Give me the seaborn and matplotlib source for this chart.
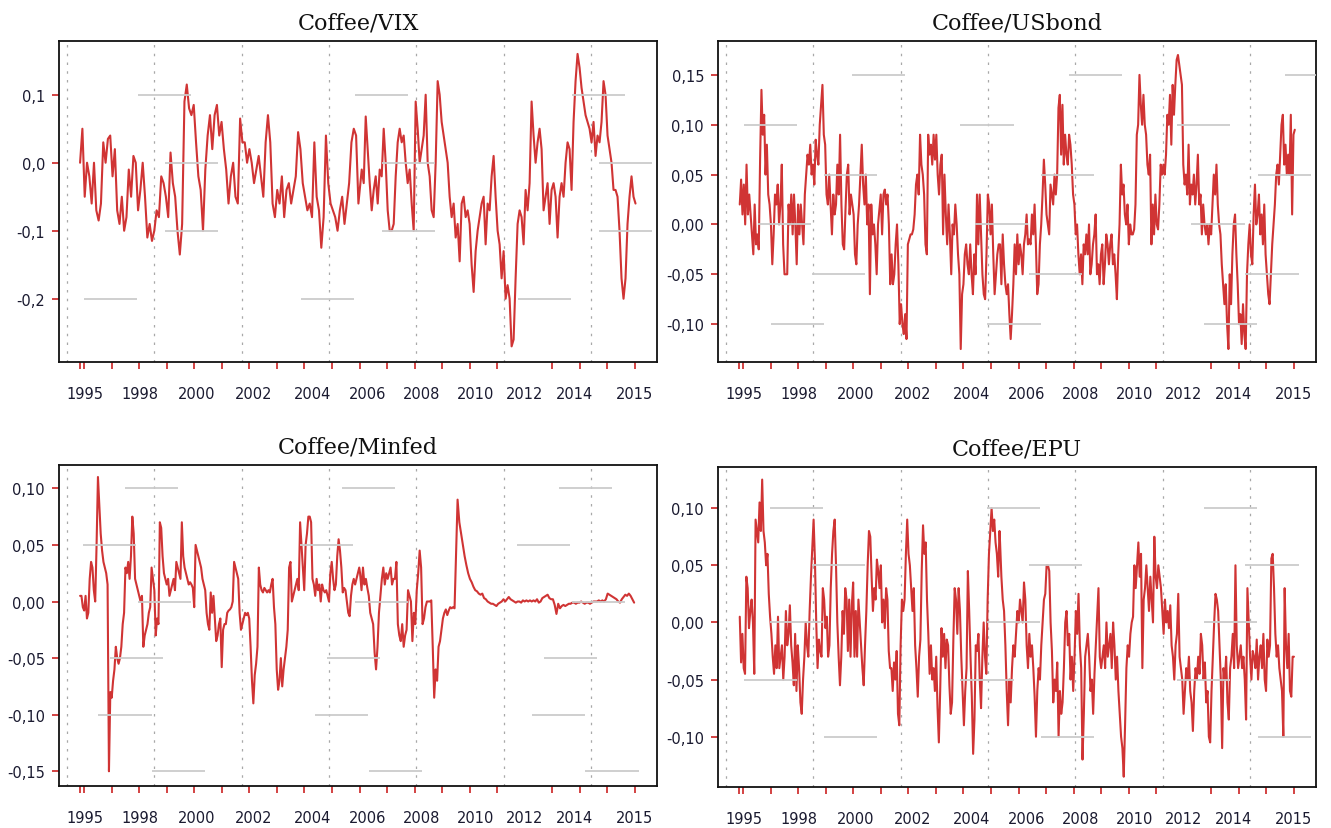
import numpy as np
import pandas as pd
import matplotlib
matplotlib.use("Agg")
import matplotlib.pyplot as plt
import seaborn as sns

sns.set_theme(style="white")
plt.rcParams["font.family"] = ["DejaVu Sans"]

# dynamic correlations (two or three stretches per series)
vix_1995_2004 = [0.0, 0.05, -0.05, 0.0, -0.02, -0.06, 0.0, -0.07, -0.085, -0.06, 0.03, 0.0, 0.035, 0.04, -0.02, 0.02,
                 -0.07, -0.09, -0.05, -0.1, -0.08, -0.01, -0.05, 0.01, 0.0, -0.07, -0.04, 0.0, -0.05, -0.11, -0.09,
                 -0.115, -0.1, -0.07, -0.08, -0.02, -0.03, -0.05, -0.08, 0.015, -0.03, -0.05, -0.1, -0.135, -0.09,
                 0.09, 0.115, 0.08, 0.07, 0.085, 0.03, -0.02, -0.04, -0.1, -0.01, 0.04, 0.07, 0.02, 0.07, 0.085, 0.04,
                 0.06, 0.02, -0.01, -0.06, -0.02, 0.0, -0.05, -0.06, 0.065, 0.03, 0.03, 0.0, 0.02, 0.0, -0.03, -0.01,
                 0.01, -0.02, -0.05, 0.03, 0.07, 0.03, -0.06, -0.08, -0.04, -0.06, -0.02, -0.08, -0.04, -0.03, -0.06,
                 -0.04, -0.02, 0.045, 0.02, -0.03, -0.05, -0.07, -0.06, -0.08, 0.03, -0.05, -0.07, -0.125, -0.08, 0.04,
                 -0.03, -0.06, -0.07, -0.08, -0.1, -0.07, -0.05, -0.09, -0.06, -0.03, 0.03, 0.05, 0.04, -0.06]
vix_2005_2015 = [-0.01, -0.03, 0.068, 0.02, -0.03, -0.07, -0.04, -0.02, -0.06, -0.01, -0.02, 0.05, 0.0, -0.07, -0.1,
                 -0.1, -0.09, -0.02, 0.03, 0.05, 0.03, 0.04, 0.0, -0.03, -0.01, -0.06, -0.1, 0.09, 0.05, 0.0, 0.02,
                 0.04, 0.1, 0.0, -0.02, -0.07, -0.08, 0.0, 0.12, 0.1, 0.06, 0.04, 0.02, 0.0, -0.05, -0.08, -0.06,
                 -0.11, -0.09, -0.145, -0.06, -0.05, -0.08, -0.07, -0.09, -0.15, -0.19, -0.13, -0.1, -0.08, -0.06,
                 -0.05, -0.12, -0.06, -0.07, -0.02, 0.01, -0.05, -0.1, -0.12, -0.17, -0.13, -0.2, -0.18, -0.2, -0.27,
                 -0.26, -0.17, -0.09, -0.07, -0.08, -0.12, -0.04, -0.07, -0.03, 0.09, 0.04, 0.0, 0.03, 0.05, 0.02,
                 -0.07, -0.05, -0.03, -0.09, -0.04, -0.03, -0.05, -0.11, -0.05, -0.03, -0.05, 0.0, 0.03, 0.02, -0.04,
                 0.06, 0.12, 0.16, 0.14, 0.11, 0.09, 0.07, 0.06, 0.05, 0.03, 0.06, 0.01, 0.04, 0.03, 0.06, 0.12, 0.1,
                 0.04, 0.02, 0.0, -0.04, -0.04, -0.05, -0.1, -0.17, -0.2, -0.17, -0.09, -0.05, -0.02, -0.05, -0.06]

usbond_1995_2004 = [0.02, 0.045, 0.01, 0.04, 0.0, 0.06, 0.01, 0.03, 0.01, -0.01, -0.03, 0.02, -0.02, -0.01, -0.025,
                    0.065, 0.135, 0.09, 0.11, 0.05, 0.08, 0.03, 0.02, 0.0, -0.04, -0.01, 0.03, 0.02, 0.04, 0.0, 0.02,
                    0.06, -0.02, -0.05, -0.05, -0.05, 0.02, 0.0, 0.03, -0.01, 0.03, 0.0, -0.04, 0.02, -0.01, 0.02,
                    0.0, -0.02, 0.03, 0.05, 0.07, 0.06, 0.08, 0.05, 0.06, 0.04, 0.085, 0.07, 0.06, 0.1, 0.12, 0.14,
                    0.09, 0.08, 0.03, 0.02, 0.05, 0.02, -0.01, 0.03, 0.01, 0.02, 0.06, 0.03, 0.09, 0.02, -0.02, -0.025,
                    0.015, 0.05, 0.06, 0.01, 0.03, 0.02, 0.01, -0.03, -0.04, 0.0, 0.02, 0.05, 0.08, 0.04, 0.02, 0.05,
                    0.0, 0.02, -0.07, 0.02, -0.01, 0.0, -0.02, -0.05, 0.0, 0.015, 0.03, -0.01, 0.03, 0.035, 0.02,
                    0.03, 0.0, -0.06, -0.03, -0.06, -0.05, -0.02, 0.0, -0.04, -0.1, -0.08, -0.1, -0.11, -0.09, -0.115,
                    -0.02, -0.015, -0.01, -0.01, -0.005, 0.01, 0.04, 0.05, 0.03, 0.09, 0.06, 0.05, 0.03, -0.02, -0.03,
                    0.09, 0.07, 0.08, 0.06, 0.09, 0.065, 0.09, 0.05, 0.03, 0.06, 0.07, -0.01, 0.05, 0.01, -0.02, 0.02,
                    -0.01, -0.05, 0.0, -0.01, 0.02, 0.0, -0.03, -0.05, -0.125, -0.07, -0.06, -0.03, -0.02, -0.04,
                    -0.05, -0.02, -0.05, -0.07, -0.03, -0.05, 0.03, -0.02, 0.03, -0.01, -0.05, -0.07, -0.075, -0.03,
                    0.03, 0.02, -0.01, 0.02, -0.03, -0.07, -0.05, -0.03, -0.02]
usbond_2004_2015 = [-0.02, -0.06, -0.01, -0.04, -0.06, -0.07, -0.06, -0.09, -0.115, -0.09, -0.06, -0.02, -0.05,
                    -0.01, -0.04, -0.02, -0.03, -0.05, -0.02, -0.01, 0.01, -0.02, -0.015, -0.02, 0.01, -0.01, 0.02,
                    -0.02, -0.07, -0.06, -0.02, 0.0, 0.03, 0.065, 0.04, 0.01, 0.0, -0.01, 0.04, 0.03, 0.02, 0.05, 0.03,
                    0.05, 0.117, 0.13, 0.07, 0.12, 0.06, 0.09, 0.07, 0.06, 0.09, 0.08, 0.06, 0.03, 0.02, -0.01, 0.0,
                    -0.03, -0.05, -0.03, -0.06, -0.02, -0.03, -0.01, -0.03, 0.0, -0.05, -0.04, -0.02, -0.01, 0.01,
                    -0.05, -0.04, -0.06, -0.03, -0.02, -0.06, -0.04, -0.01, -0.02, -0.04, -0.02, -0.01, -0.04, -0.03,
                    -0.05, -0.075, -0.03, 0.0, 0.06, 0.03, 0.04, 0.01, 0.0, 0.02, -0.02, 0.0, -0.01, -0.01, -0.005,
                    0.02, 0.09, 0.1, 0.15, 0.12, 0.1, 0.13, 0.1, 0.09, 0.06, 0.05, 0.07, -0.02, 0.02, -0.01, 0.03, 0.0,
                    -0.005, 0.02, 0.06, 0.05, 0.06, 0.05, 0.07, 0.11, 0.1, 0.13, 0.08, 0.14, 0.11, 0.14, 0.165, 0.17,
                    0.16, 0.15, 0.14, 0.06, 0.04, 0.05, 0.03, 0.08, 0.02, 0.04, 0.03, 0.05, 0.02, 0.04, 0.07, 0.02,
                    0.03, -0.01, 0.02, 0.0, -0.01, 0.0, -0.02, 0.0, -0.01, 0.02, 0.05, 0.03, 0.06, 0.02, 0.0, -0.01,
                    -0.04, -0.06, -0.08, -0.06, -0.1, -0.125, -0.05, -0.08, -0.03, 0.0, 0.01, -0.03, -0.06, -0.1,
                    -0.09, -0.12, -0.08, -0.11, -0.125, -0.05, -0.02, 0.0, -0.03, -0.04, 0.01, 0.04, 0.0, 0.01, 0.03,
                    -0.01, 0.01, -0.02, 0.02, -0.03, -0.05, -0.07, -0.08, -0.05, -0.02, 0.0, 0.02, 0.05, 0.06, 0.04,
                    0.07, 0.1, 0.11, 0.06, 0.08, 0.05, 0.07, 0.05, 0.11, 0.01, 0.09, 0.095]

minfed_1995_2004 = [0.005, 0.005, -0.005, -0.008, 0.005, -0.015, -0.01, 0.02, 0.035, 0.03, 0.01, 0.0, 0.05, 0.11,
                    0.085, 0.06, 0.045, 0.035, 0.03, 0.025, 0.015, -0.15, -0.08, -0.085, -0.07, -0.06, -0.04, -0.05,
                    -0.055, -0.05, -0.04, -0.02, -0.01, 0.03, 0.025, 0.035, 0.02, 0.04, 0.075, 0.06, 0.02, 0.015,
                    0.01, 0.005, 0.0, 0.005, -0.04, -0.03, -0.025, -0.02, -0.01, -0.005, 0.03, 0.02, 0.01, -0.03,
                    -0.015, -0.02, 0.07, 0.065, 0.04, 0.025, 0.02, 0.015, 0.02, 0.005, 0.01, 0.015, 0.02, 0.01, 0.035,
                    0.03, 0.025, 0.02, 0.07, 0.04, 0.03, 0.025, 0.02, 0.015, 0.017, 0.015, 0.012, -0.005, 0.05, 0.045,
                    0.04, 0.035, 0.03, 0.02, 0.015, 0.01, -0.01, -0.02, -0.025, 0.008, -0.01, 0.005, -0.015, -0.035,
                    -0.03, -0.02, -0.015, -0.058, -0.025, -0.02, -0.02, -0.01, -0.008, -0.007, -0.005, 0.0, 0.035,
                    0.03, 0.025, 0.02, -0.01, -0.025, -0.02, -0.015, -0.01, -0.012, -0.01, -0.015, -0.04, -0.07,
                    -0.09, -0.065, -0.055, -0.04, 0.03, 0.015, 0.01, 0.008, 0.012, 0.01, 0.008, 0.01, 0.008, 0.015,
                    0.02, -0.005, -0.02, -0.06, -0.078, -0.07, -0.05, -0.075, -0.06, -0.05, -0.04, -0.025, 0.03,
                    0.035, 0.0, 0.005, 0.01, 0.015, 0.02, 0.01, 0.07, 0.05, 0.03, 0.01, 0.05, 0.06, 0.075, 0.075,
                    0.07, 0.02, 0.015, 0.005, 0.02, 0.01, 0.015, 0.0, 0.015, 0.01, 0.008, 0.01, 0.005, 0.0, 0.025,
                    0.035, 0.02, 0.01, 0.015, 0.04, 0.055, 0.045, 0.03, 0.008, 0.012, 0.01, 0.0, -0.01, -0.013,
                    0.005, 0.015, 0.02, 0.015, 0.02, 0.025, 0.03]
minfed_2005_2008 = [0.025, 0.01, 0.03, 0.015, 0.02, 0.012, 0.005, -0.01, -0.015, -0.02, -0.045, -0.06, -0.04, -0.01,
                    0.005, 0.02, 0.03, 0.015, 0.025, 0.02, 0.025, 0.03, 0.015, 0.02, 0.02, 0.035, -0.02, -0.03,
                    -0.035, -0.02, -0.04, -0.03, -0.025, 0.01, 0.005, 0.0, -0.035, -0.01, -0.02, 0.01, 0.025, 0.045,
                    0.03, -0.02, -0.015, -0.005, 0.0, 0.0, 0.0, 0.001, -0.04, -0.085, -0.06, -0.07, -0.04, -0.035,
                    -0.025, -0.015, -0.01, -0.007, -0.012, -0.008, -0.005, -0.006, -0.005, -0.006]
minfed_2008_2015 = [0.09, 0.07, 0.06, 0.05, 0.04, 0.032, 0.025, 0.02, 0.017, 0.013, 0.01, 0.009, 0.007, 0.006, 0.007,
                    0.003, 0.002, 0.0, -0.001, -0.002, -0.002, -0.003, -0.004, -0.002, -0.001, 0.0, 0.002, 0.0,
                    0.002, 0.004, 0.002, 0.001, 0.0, -0.001, 0.0, 0.0, -0.001, 0.001, 0.0, 0.001, 0.0, 0.001, 0.0,
                    0.001, 0.0, 0.002, -0.001, 0.0, 0.003, 0.004, 0.005, 0.006, 0.003, 0.002, 0.002, -0.003, -0.011,
                    -0.002, -0.006, -0.004, -0.003, -0.004, -0.003, -0.002, -0.002, -0.001, -0.001, -0.002, -0.001,
                    -0.001, 0.0, -0.001, -0.002, -0.001, -0.001, -0.002, -0.001, 0.0, 0.0, 0.0, 0.001, 0.0, 0.001,
                    0.0, 0.002, 0.007, 0.006, 0.005, 0.004, 0.003, 0.002, 0.0, -0.001, 0.002, 0.004, 0.006, 0.005,
                    0.007, 0.005, 0.002, -0.001]

epu_1995_2004 = [0.005, -0.035, -0.01, -0.04, -0.045, 0.04, 0.03, -0.005, 0.01, 0.02, 0.0, -0.045, 0.09, 0.08, 0.07,
                 0.105, 0.08, 0.125, 0.08, 0.07, 0.05, 0.06, 0.025, 0.005, -0.01, -0.03, -0.045, -0.02, -0.04, 0.005,
                 -0.04, -0.03, -0.02, -0.05, -0.03, 0.01, -0.02, -0.01, 0.015, -0.02, -0.035, -0.055, -0.01, -0.06,
                 -0.02, -0.04, -0.07, -0.08, -0.05, -0.03, 0.0, -0.02, -0.03, 0.01, 0.04, 0.065, 0.09, 0.055, 0.0,
                 -0.04, -0.015, -0.025, -0.03, 0.03, 0.02, -0.005, 0.005, -0.03, -0.02, 0.03, 0.06, 0.08, 0.09, 0.05,
                 0.0, -0.03, -0.055, -0.03, 0.01, -0.01, 0.03, 0.02, -0.025, 0.02, -0.03, 0.015, 0.035, -0.03, 0.01,
                 -0.03, 0.02, 0.0, -0.02, -0.04, -0.055, -0.02, 0.01, 0.05, 0.08, 0.075, 0.04, 0.01, 0.03, 0.02,
                 0.055, 0.045, 0.03, 0.05, 0.0, 0.02, -0.005, 0.03, 0.02, -0.025, -0.04, -0.04, -0.06, -0.035, -0.05,
                 -0.025, -0.08, -0.09, -0.02, 0.02, 0.01, 0.02, 0.06, 0.09, 0.06, 0.05, 0.03, 0.01, 0.03, -0.02,
                 -0.04, -0.065, -0.03, -0.015, 0.045, 0.085, 0.06, 0.07, 0.02, -0.01, -0.045, -0.02, -0.05, -0.04,
                 -0.06, -0.03, -0.075, -0.105, -0.06, -0.005, -0.03, -0.01, -0.04, -0.015, -0.02, -0.055, -0.08,
                 -0.07, -0.015, 0.03, 0.02, -0.01, 0.03, 0.01, -0.03, -0.06, -0.09, -0.06, -0.04, 0.045, 0.01, -0.03,
                 -0.065, -0.115, -0.085, -0.02, -0.025, -0.01, -0.05, -0.075, -0.03, 0.0, -0.03, -0.045, 0.02, 0.06,
                 0.08, 0.1, 0.08, 0.09, 0.07, 0.06, 0.04, 0.08]
epu_2004_2015 = [0.07, 0.04, 0.02, 0.01, -0.02, -0.06, -0.09, -0.05, -0.07, -0.04, -0.02, -0.03, -0.01, 0.01, 0.0,
                 0.02, 0.01, 0.0, 0.035, 0.02, -0.02, -0.04, -0.01, -0.03, -0.02, -0.04, -0.065, -0.1, -0.06, -0.04,
                 -0.05, -0.02, 0.0, 0.02, 0.025, 0.05, 0.05, 0.045, 0.0, -0.025, -0.07, -0.05, -0.06, -0.035, -0.1,
                 -0.06, -0.08, -0.07, -0.04, 0.0, 0.01, -0.02, -0.01, -0.05, -0.03, -0.06, -0.03, 0.01, -0.01, 0.025,
                 -0.02, -0.04, -0.12, -0.08, -0.03, -0.02, -0.01, -0.03, -0.06, -0.05, -0.08, -0.045, -0.02, 0.005,
                 0.03, -0.03, -0.04, -0.03, -0.02, -0.04, 0.0, -0.03, -0.02, -0.01, -0.04, 0.0, -0.02, -0.05, -0.03,
                 -0.06, -0.08, -0.1, -0.11, -0.135, -0.09, -0.04, -0.02, -0.03, -0.01, 0.0, 0.005, 0.05, 0.03, 0.05,
                 0.07, 0.04, 0.06, -0.04, 0.02, 0.03, 0.05, 0.03, 0.01, 0.04, 0.02, 0.0, 0.075, 0.04, 0.03, 0.05,
                 0.04, 0.03, 0.01, -0.01, 0.02, 0.0, 0.01, -0.005, 0.015, -0.02, -0.03, -0.05, -0.02, -0.01, 0.025,
                 -0.03, -0.04, -0.05, -0.08, -0.06, -0.04, -0.05, -0.03, -0.06, -0.07, -0.095, -0.06, -0.04, -0.05,
                 -0.03, -0.045, -0.01, -0.02, -0.05, -0.035, -0.07, -0.06, -0.1, -0.105, -0.06, -0.03, 0.0, 0.025,
                 0.02, 0.01, -0.02, -0.05, -0.11, -0.04, -0.05, -0.03, -0.07, -0.085, -0.04, -0.03, -0.01, -0.04,
                 0.05, -0.02, -0.04, -0.03, -0.02, -0.04, -0.03, -0.05, -0.085, 0.03, 0.0, -0.03, -0.05, -0.025,
                 -0.03, -0.04, -0.015, -0.05, -0.03, -0.02, -0.04, -0.01, -0.05, -0.06, -0.015, -0.03, -0.02, 0.056,
                 0.06, 0.03, -0.01, -0.03, -0.02, -0.04, -0.05, -0.06, -0.1, 0.03, -0.02, -0.04, -0.01, -0.06,
                 -0.065, -0.03, -0.03]

# time spans (in year units of the axis) covered by each stretch
titles = ["Coffee/VIX", "Coffee/USbond", "Coffee/Minfed", "Coffee/EPU"]
series = [
    [(1994.855, 2004.96, vix_1995_2004), (2005.08, 2015.02, vix_2005_2015)],
    [(1994.88, 2004.28, usbond_1995_2004), (2004.33, 2015.03, usbond_2004_2015)],
    [(1994.855, 2004.99, minfed_1995_2004), (2005.02, 2008.45, minfed_2005_2008),
     (2008.56, 2014.97, minfed_2008_2015)],
    [(1994.88, 2004.31, epu_1995_2004), (2004.33, 2015.0, epu_2004_2015)],
]
yticks = [[0.1, 0.0, -0.1, -0.2],
          [0.15, 0.10, 0.05, 0.0, -0.05, -0.10],
          [0.10, 0.05, 0.0, -0.05, -0.10, -0.15],
          [0.10, 0.05, 0.0, -0.05, -0.10]]
ydecimals = [1, 2, 2, 2]
ylims = [(-0.293, 0.179), (-0.138, 0.184), (-0.163, 0.1206), (-0.144, 0.136)]
xlabels = ["1995", "1998", "2000", "2002", "2004", "2006", "2008", "2010", "2012", "2014", "2015"]

# layout / style
RED = "#d03434"
label_pos = [1995.04, 1997.03, 1999.07, 2001.17, 2003.3, 2005.3, 2007.25, 2009.23, 2011.0, 2012.8, 2014.97]
minor_pos = [1994.85] + list(range(1995, 2016))
rects = [(59, 42, 657, 363), (718, 42, 1316, 363), (59, 466, 657, 787), (718, 468, 1316, 788)]
# phase of the broken light-grey guide lines, per level
dash_phase = [
    {0.1: 1.96, 0.0: 2.94, -0.1: 2.94, -0.2: 0.0},
    {0.15: 3.95, 0.10: 0.02, 0.05: 2.95, 0.0: 0.54, -0.05: 2.5, -0.10: 1.0},
    {0.10: 1.49, 0.05: -0.03, 0.0: 1.97, -0.05: 0.94, -0.10: 0.52, -0.15: 2.46},
    {0.10: 0.99, 0.05: 2.5, 0.0: 0.99, -0.05: 0.02, -0.10: 2.95},
]

W, H = 1331, 829
fig = plt.figure(figsize=(W / 100, H / 100), dpi=100)

for i in range(4):
    x0, y0, x1, y1 = rects[i]
    ax = fig.add_axes([x0 / W, 1 - y1 / H, (x1 - x0) / W, (y1 - y0) / H])
    t = np.concatenate([np.linspace(a, b, len(v)) for a, b, v in series[i]])
    y = np.concatenate([v for a, b, v in series[i]])
    df = pd.DataFrame({"t": t, "value": y})
    sns.lineplot(data=df, x="t", y="value", ax=ax, color=RED, lw=1.5,
                 estimator=None, sort=False, zorder=2)

    ax.set_xlim(1994.09, 2015.8)
    ax.set_ylim(*ylims[i])

    for k in range(7):
        ax.axvline(1994.38 + 3.17 * k, color="#a8a8a8", lw=0.9, ls=(0, (2, 5)), zorder=0)
    for level, ph in dash_phase[i].items():
        starts = 1995 + ph + 7.87 * np.arange(-1, 4)
        ax.hlines([level] * len(starts), starts, starts + 1.93, color="#cbcbcb", lw=1.3, zorder=3)

    ax.set_xticks(label_pos)
    ax.set_xticklabels(xlabels)
    ax.set_xticks(minor_pos, minor=True)
    ax.tick_params(axis="x", which="major", length=0, pad=17, labelsize=10.5, labelcolor="#1a1a30")
    ax.tick_params(axis="x", which="minor", length=5, width=1.3, color=RED, direction="out", bottom=True)
    fmt = "{:.%df}" % ydecimals[i]
    ax.set_yticks(yticks[i])
    ax.set_yticklabels([fmt.format(v).replace(".", ",") for v in yticks[i]])
    ax.tick_params(axis="y", length=5, width=1.3, color=RED, direction="out", left=True, pad=5,
                   labelsize=10.5, labelcolor="#1a1a30")
    ax.set_xlabel("")
    ax.set_ylabel("")
    for s in ax.spines.values():
        s.set_color("#111111")
        s.set_linewidth(1.3)
    ax.set_title(titles[i], family="DejaVu Serif", fontsize=16, pad=9, color="#111111")

fig.savefig("out.png", dpi=100)
